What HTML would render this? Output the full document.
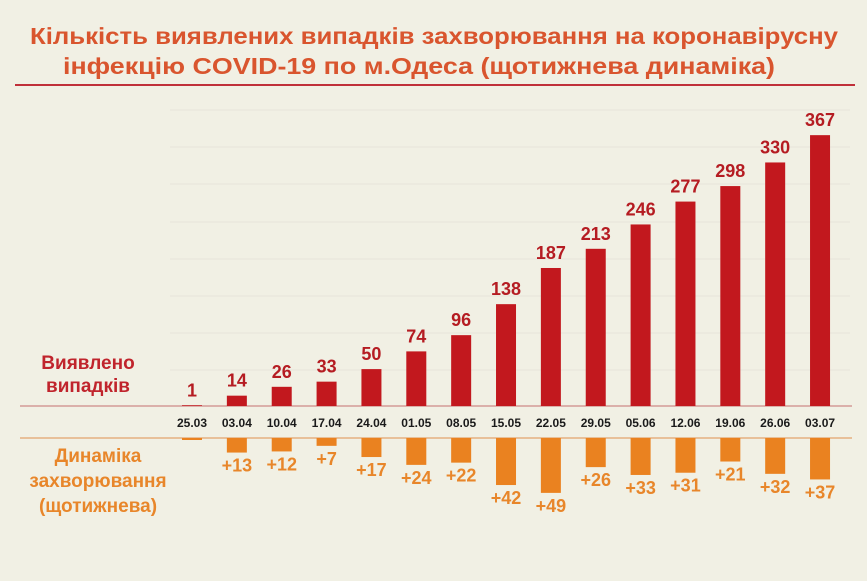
<!DOCTYPE html>
<html><head><meta charset="utf-8"><style>
html,body{margin:0;padding:0;background:#f1f0e4;}
svg{display:block;font-family:"Liberation Sans","DejaVu Sans",sans-serif;}
</style></head><body>
<svg width="867" height="581" viewBox="0 0 867 581" xmlns="http://www.w3.org/2000/svg">
<rect width="867" height="581" fill="#f1f0e4"/>
<g font-weight="bold" fill="#d9552e" font-size="23" text-anchor="middle">
<text x="434" y="44" textLength="808" lengthAdjust="spacingAndGlyphs">Кількість виявлених випадків захворювання на коронавірусну</text>
<text x="419" y="74" textLength="712" lengthAdjust="spacingAndGlyphs">інфекцію COVID-19 по м.Одеса (щотижнева динаміка)</text>
</g>
<line x1="15" y1="85" x2="855" y2="85" stroke="#c0303a" stroke-width="2"/>
<g stroke="#e6e5da" stroke-width="1">
<line x1="170" y1="110" x2="850" y2="110"/><line x1="170" y1="147" x2="850" y2="147"/>
<line x1="170" y1="184" x2="850" y2="184"/><line x1="170" y1="222" x2="850" y2="222"/>
<line x1="170" y1="259" x2="850" y2="259"/><line x1="170" y1="296" x2="850" y2="296"/>
<line x1="170" y1="333" x2="850" y2="333"/><line x1="170" y1="370" x2="850" y2="370"/>
</g>
<line x1="20" y1="406" x2="852" y2="406" stroke="#d49a96" stroke-width="1.5"/>
<line x1="20" y1="438" x2="852" y2="438" stroke="#e6b080" stroke-width="1.5"/>
<g font-weight="bold" font-size="19" text-anchor="middle">
<text x="88" y="369" fill="#c0242c">Виявлено</text>
<text x="88" y="392" fill="#c0242c">випадків</text>
<text x="98" y="462" fill="#e8862a">Динаміка</text>
<text x="98" y="487" fill="#e8862a">захворювання</text>
<text x="98" y="512" fill="#e8862a">(щотижнева)</text>
</g>
<g id="bars"></g>
</svg>
<script>
var v=[1,14,26,33,50,74,96,138,187,213,246,277,298,330,367];
var d=[0,13,12,7,17,24,22,42,49,26,33,31,21,32,37];
var dt=["25.03","03.04","10.04","17.04","24.04","01.05","08.05","15.05","22.05","29.05","05.06","12.06","19.06","26.06","03.07"];
var g=document.getElementById('bars'),s='';
for(var i=0;i<15;i++){var cx=192+i*44.86,h=v[i]*0.738,t=406-h;
s+='<rect x="'+(cx-10)+'" y="'+t+'" width="20" height="'+h+'" fill="#c2181e"/>';
s+='<text x="'+cx+'" y="'+(t-9)+'" text-anchor="middle" font-weight="bold" font-size="18" fill="#b51c22">'+v[i]+'</text>';
s+='<text x="'+cx+'" y="'+427+'" text-anchor="middle" font-weight="bold" font-size="12" fill="#1a1a1a">'+dt[i]+'</text>';
var dh=i==0?2:d[i]*1.12;
s+='<rect x="'+(cx-10)+'" y="438" width="20" height="'+dh+'" fill="#ea8220"/>';
if(i>0)s+='<text x="'+cx+'" y="'+(438+dh+19)+'" text-anchor="middle" font-weight="bold" font-size="18" fill="#e8862a">+'+d[i]+'</text>';}
g.innerHTML=s;
</script>
</body></html>
